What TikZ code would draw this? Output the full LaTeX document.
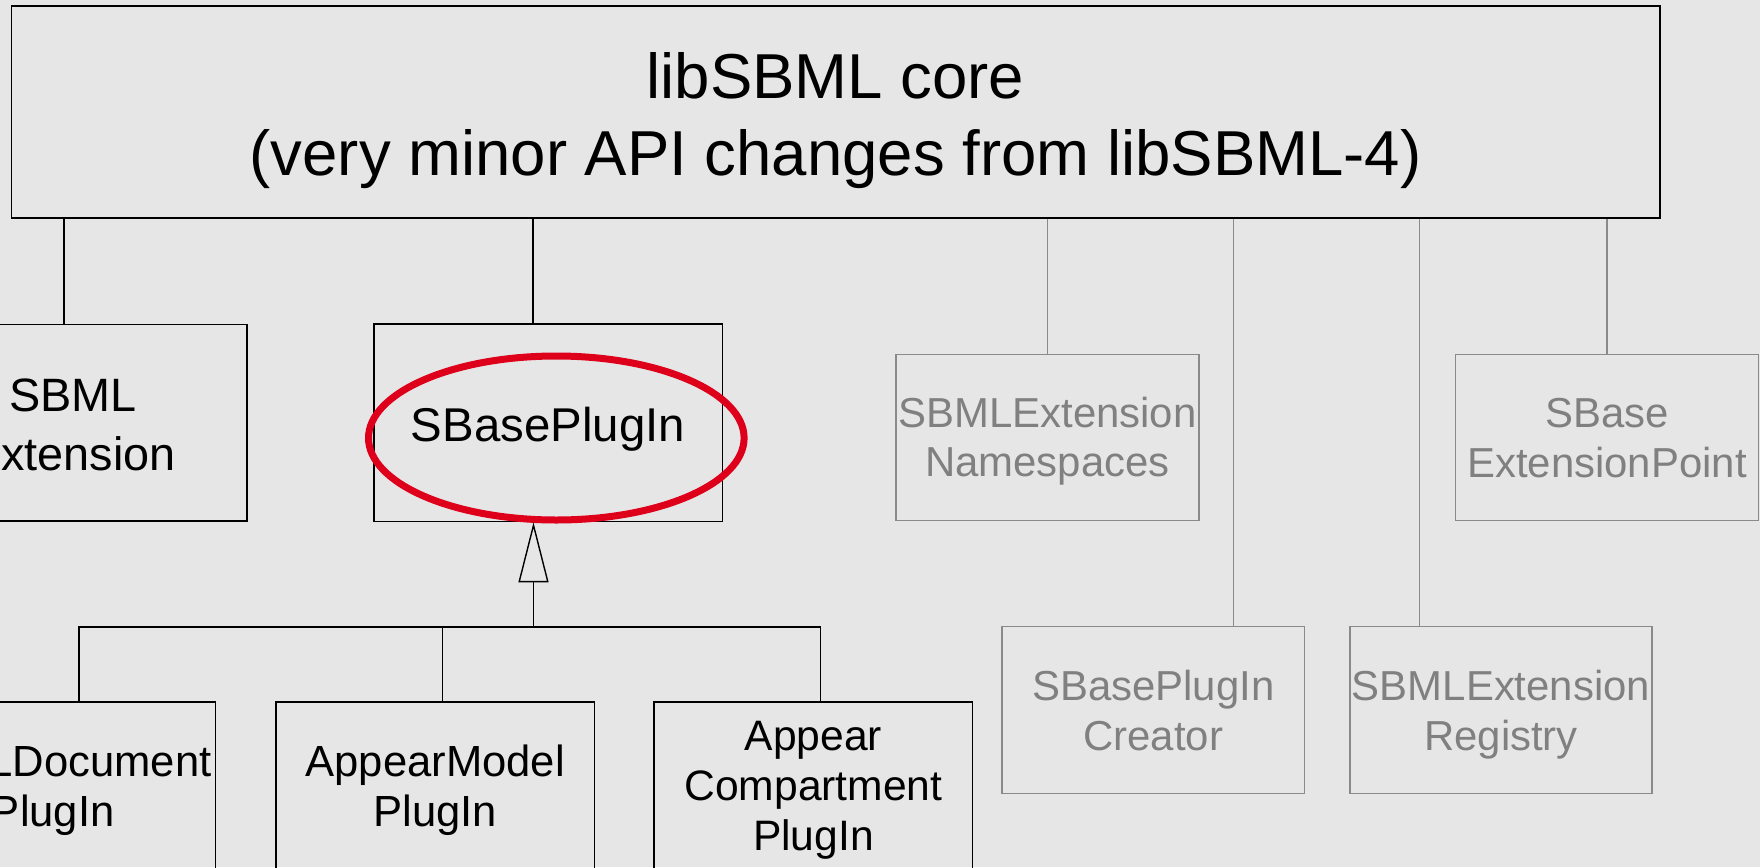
\documentclass[tikz,border=0pt]{standalone}
\usepackage{fontspec}
\setmainfont{Liberation Sans}
\usetikzlibrary{arrows.meta,shapes.geometric}
\definecolor{bgc}{RGB}{230,230,230}
\definecolor{hlred}{RGB}{222,0,26}
\definecolor{txtgray}{RGB}{128,128,128}
\definecolor{linegray}{RGB}{138,138,138}
\tikzset{
  box/.style={draw=black, line width=0.85pt, rectangle, inner sep=0pt},
  gbox/.style={draw=linegray, line width=0.75pt, rectangle, inner sep=0pt},
  lbl/.style={anchor=base, align=center, inner sep=0pt},
  glbl/.style={lbl, text=txtgray, font=\fontsize{20.95}{24.75}\selectfont},
  smallfont/.style={font=\fontsize{21.8}{25.35}\selectfont},
  conn/.style={line width=0.7pt, draw=black},
  gconn/.style={line width=0.7pt, draw=linegray},
}
\begin{document}
\begin{tikzpicture}[x=0.5pt,y=-0.5pt]
\useasboundingbox (0,0) rectangle (1760,867);
\fill[bgc] (0,0) rectangle (1760,867);
\clip (0,0) rectangle (1760,867);

% core
\node[box, minimum width=824.25pt, minimum height=106pt] (core) at (835.7,112) {};
\node[lbl, font=\fontsize{31.75}{38.5}\selectfont] (coret) at (835.5,175) {libSBML core\\(very minor API changes from libSBML-4)};

% second row, black
\node[box, minimum width=173.35pt, minimum height=98.35pt] (sbmlext) at (73.3,422.7) {};
\node[lbl, font=\fontsize{23.4}{29.15}\selectfont] (sbmlextt) at (73,470) {SBML\\Extension};
\node[box, minimum width=174.25pt, minimum height=98.6pt] (sbp) at (548.25,422.9) {};
\node[lbl, font=\fontsize{23.7}{28}\selectfont] (sbpt) at (548,441) {SBasePlugIn};
\node[draw=hlred, line width=3.5pt, ellipse, minimum width=187.8pt, minimum height=82pt, inner sep=0pt] (hl) at (556.3,438) {};

\draw[conn] ([xshift=82.5pt]sbmlext.north west) -- ([xshift=82.5pt]sbmlext.north west |- core.south);
\draw[conn] ([xshift=80pt]sbp.north west) -- ([xshift=80pt]sbp.north west |- core.south);

% bottom row, black
\node[box, minimum width=162.8pt, minimum height=88pt] (sdp) at (52.8,790) {};
\node[lbl, smallfont] (sdpt) at (52.8,826.7) {SBMLDocument\\PlugIn};
\node[box, minimum width=159.15pt, minimum height=88pt] (amp) at (435.2,790) {};
\node[lbl, smallfont] (ampt) at (435.2,826.7) {AppearModel\\PlugIn};
\node[box, minimum width=159.15pt, minimum height=88pt] (acp) at (813.2,790) {};
\node[lbl, font=\fontsize{21.3}{25}\selectfont] (acpt) at (813.5,850.7) {Appear\\Compartment\\PlugIn};

\coordinate (bar) at (533.5,627);
\draw[conn] ([xshift=95pt]sdp.north west) -- ([xshift=95pt]sdp.north west |- bar) -- ([xshift=83.65pt]acp.north west |- bar) -- ([xshift=83.65pt]acp.north west);
\draw[conn] ([xshift=83.5pt]amp.north west) -- ([xshift=83.5pt]amp.north west |- bar);
\draw[conn, -{Triangle[open, length=30pt, width=15pt]}] (bar) -- (bar |- sbp.south);

% gray boxes
\node[gbox, minimum width=151.5pt, minimum height=83.2pt] (ns) at (1047.5,437.5) {};
\node[glbl] (nst) at (1047.5,476.7) {SBMLExtension\\Namespaces};
\node[gbox, minimum width=151.3pt, minimum height=83.2pt] (ep) at (1607,437.5) {};
\node[glbl] (ept) at (1607,477.3) {SBase\\ExtensionPoint};
\node[gbox, minimum width=151.35pt, minimum height=83.3pt] (cr) at (1153.3,710) {};
\node[glbl] (crt) at (1153.3,750) {SBasePlugIn\\Creator};
\node[gbox, minimum width=151pt, minimum height=83.3pt] (reg) at (1501,710) {};
\node[glbl] (regt) at (1501,750) {SBMLExtension\\Registry};

\draw[gconn] (ns.north) -- (ns.north |- core.south);
\draw[gconn] (ep.north) -- (ep.north |- core.south);
\draw[gconn] ([xshift=116pt]cr.north west) -- ([xshift=116pt]cr.north west |- core.south);
\draw[gconn] ([xshift=35pt]reg.north west) -- ([xshift=35pt]reg.north west |- core.south);
\end{tikzpicture}
\end{document}
